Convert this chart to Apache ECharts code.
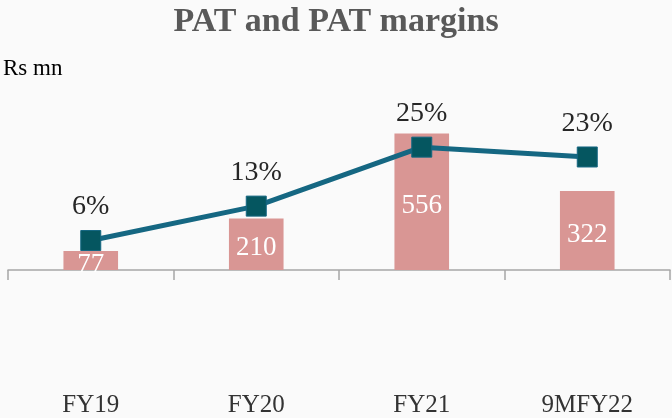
<!DOCTYPE html>
<html>
<head>
<meta charset="utf-8">
<script src="https://cdn.jsdelivr.net/npm/echarts@6/dist/echarts.min.js"></script>
<style>
  html, body { margin: 0; padding: 0; background: #fafafa; }
  #chart { width: 672px; height: 418px; }
</style>
</head>
<body>
<div id="chart"></div>
<script>
// data
var categories = ['FY19', 'FY20', 'FY21', '9MFY22'];
var patValues = [77, 210, 556, 322];
var marginValues = [6, 13, 25, 23];

var serif = '"Liberation Serif", "DejaVu Serif", serif';

var chart = echarts.init(document.getElementById('chart'));
chart.setOption({
    backgroundColor: '#fafafa',
    animation: false,
    title: {
        text: 'PAT and PAT margins',
        left: 'center',
        top: 0,
        textStyle: {
            fontFamily: serif,
            fontSize: 34,
            fontWeight: 'bold',
            color: '#595959'
        }
    },
    graphic: [{
        type: 'text',
        left: 3,
        top: 57,
        style: {
            text: 'Rs mn',
            fontFamily: serif,
            fontSize: 23,
            fill: '#000'
        }
    }],
    grid: {
        left: 8,
        right: 2,
        top: 98,
        bottom: 148,
        containLabel: false
    },
    xAxis: {
        type: 'category',
        data: categories,
        boundaryGap: true,
        axisLine: { lineStyle: { color: '#a6a6a6', width: 1.5 } },
        axisTick: { show: true, length: 10, lineStyle: { color: '#a6a6a6', width: 1.5 } },
        axisLabel: {
            margin: 123,
            fontFamily: serif,
            fontSize: 25,
            color: '#333'
        }
    },
    yAxis: [{
        type: 'value',
        min: 0,
        max: 700,
        show: false
    }, {
        type: 'value',
        min: 0,
        max: 35,
        show: false
    }],
    series: [{
        name: 'PAT',
        type: 'bar',
        data: patValues,
        barWidth: '33%',
        itemStyle: { color: '#d99694' },
        label: {
            show: true,
            position: 'inside',
            offset: [0, 4],
            fontFamily: serif,
            fontSize: 27,
            color: '#fff'
        }
    }, {
        name: 'PAT margin',
        type: 'line',
        yAxisIndex: 1,
        data: marginValues,
        symbol: 'rect',
        symbolSize: 20,
        lineStyle: { color: '#156782', width: 5 },
        itemStyle: { color: '#055660', borderColor: '#156782', borderWidth: 1 },
        label: {
            show: true,
            position: 'top',
            distance: 9,
            fontFamily: serif,
            fontSize: 28,
            color: '#262626',
            formatter: '{c}%'
        }
    }]
});
</script>
</body>
</html>
